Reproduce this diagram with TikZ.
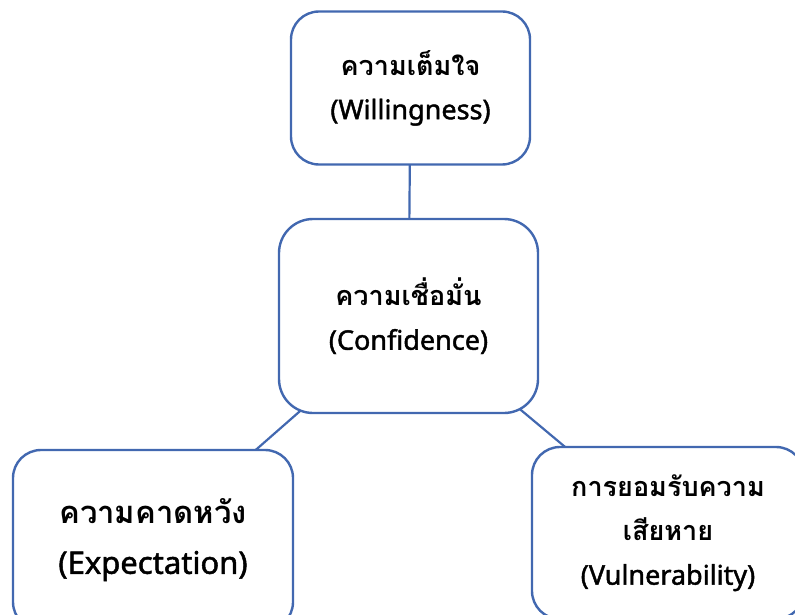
\documentclass[tikz,border=0pt]{standalone}
\usepackage{fontspec}
\setmainfont{Noto Sans}[AutoFakeBold=1.6]
\newfontfamily\thaifont[Script=Thai]{Loma}
\usepackage{tikz}
\usetikzlibrary{positioning}
\usetikzlibrary{calc,backgrounds}
\definecolor{boxblue}{RGB}{66,104,176}
\tikzset{
   box/.style = {%
    shape=rectangle,
    rounded corners=28pt,
    draw=boxblue,
    line width=2.4pt,
    fill=white,
    align=center,
    inner sep=0pt,
    font=\bfseries\fontsize{27}{44}\selectfont},
 link/.style = {%
    draw=boxblue,
    line width=2.2pt},
    }

\begin{document}
\begin{tikzpicture}[x=1pt,y=-1pt]
    \useasboundingbox (0,0) rectangle (795,615);
    \clip (0,0) rectangle (795,615);
    \node[box, minimum width=239pt, minimum height=153pt] (will) at (410.5,88)
        {{\thaifont ความเต็มใจ}\\(Willingness)};
    \node[box, minimum width=259pt, minimum height=194pt, rounded corners=34pt] (conf) at (408.5,316)
        {{\thaifont ความเชื่อมั่น}\\(Confidence)};
    \node[box, minimum width=280pt, minimum height=180pt, font=\bfseries\fontsize{31}{50}\selectfont] (expect) at (153,540)
        {{\thaifont ความคาดหวัง}\\(Expectation)};
    \node[box, minimum width=272pt, minimum height=172pt] (vuln) at (668,533)
        {{\thaifont การยอมรับความ}\\{\thaifont เสียหาย}\\(Vulnerability)};
    \begin{scope}[on background layer]
        \draw[link] (will.center) -- (conf.center);
        \draw[link] (conf.center) -- (expect.center);
        \draw[link] (conf.center) -- (vuln.center);
    \end{scope}
\end{tikzpicture}
\end{document}
